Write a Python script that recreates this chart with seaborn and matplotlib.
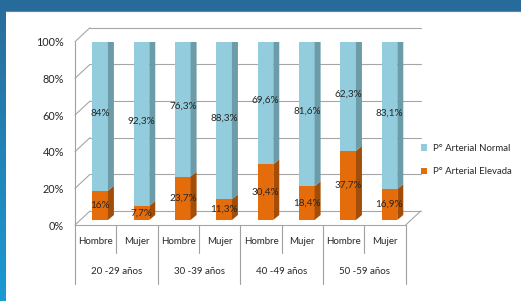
import matplotlib.pyplot as plt
import matplotlib.transforms as mtransforms
from matplotlib.patches import Polygon, Rectangle
from matplotlib.lines import Line2D
from matplotlib.colors import LinearSegmentedColormap
import seaborn as sns
import numpy as np
import pandas as pd

# datos
grupos = ["20 -29 años", "30 -39 años", "40 -49 años", "50 -59 años"]
sexos = ["Hombre", "Mujer"]
normal = [84, 92.3, 76.3, 88.3, 69.6, 81.6, 62.3, 83.1]
elevada = [16, 7.7, 23.7, 11.3, 30.4, 18.4, 37.7, 16.9]

BLUE, BLUE_SIDE, BLUE_TOP = "#93CDDD", "#6D9CA9", "#B2DCE7"
ORANGE, ORANGE_SIDE = "#E46C0A", "#A34E08"
GRID = "#A6A6A6"
TEXT = "#262626"

df = pd.DataFrame({
    "cat": [f"{g} {s}" for g in grupos for s in sexos],
    "sexo": sexos * len(grupos),
    "normal": normal,
    "elevada": elevada,
})
total = df["normal"] + df["elevada"]
df["elev_pct"] = df["elevada"] / total * 100
df["top"] = (df["normal"] + df["elevada"]) / total * 100

sns.set_style("white")
plt.rcParams["font.family"] = ["Lato", "DejaVu Sans"]

W, H = 521, 301
fig = plt.figure(figsize=(W / 100, H / 100), dpi=100)

# marco azul
fig.add_artist(Rectangle((0, (H - 10) / H), 1, 10 / H, transform=fig.transFigure,
                         color="#276B9B", zorder=-5))
strip = fig.add_axes([0, 0, 6 / W, (H - 10) / H])
grad = LinearSegmentedColormap.from_list("g", ["#1A9AD3", "#2A6E9C"])
strip.imshow(np.linspace(0, 1, 100).reshape(-1, 1), aspect="auto", cmap=grad, origin="lower")
strip.axis("off")
fig.add_artist(Line2D([6 / W, 1], [(H - 10.5) / H] * 2, transform=fig.transFigure,
                      color="#6F7F8C", lw=0.8))

ax = fig.add_axes([75 / W, (H - 225) / H, 330.7 / W, (225 - 41.7) / H])
ax.patch.set_alpha(0)

sns.barplot(data=df, x="cat", y="top", color=BLUE, saturation=1, width=0.375,
            errorbar=None, linewidth=0, label="P° Arterial Normal", ax=ax, zorder=3)
sns.barplot(data=df, x="cat", y="elev_pct", color=ORANGE, saturation=1, width=0.375,
            errorbar=None, linewidth=0, label="P° Arterial Elevada", ax=ax, zorder=3)

ax.set_xlim(-0.5, 7.5)
ax.set_ylim(0, 100)
ax.set_xticks([])
ax.set_xlabel("")
ax.set_ylabel("")
ax.set_yticks(range(0, 101, 20))
ax.set_yticklabels([f"{v}%" for v in range(0, 101, 20)])
ax.tick_params(axis="y", length=3, width=0.8, color="#868686", pad=5,
               labelsize=7.8, labelcolor=TEXT)
for s in ax.spines.values():
    s.set_visible(False)

# desplazamiento de profundidad (px)
BX, BY = 4.5, 5
SX, SY = 6, 5
DX, DY = 15, 14
for p in ax.patches:
    p.set_transform(ax.transData + mtransforms.Affine2D().translate(BX, BY))

ident = mtransforms.IdentityTransform()


def disp(x, y, dx=0, dy=0):
    X, Y = ax.transData.transform((x, y))
    return (X + dx, Y + dy)


def line(p0, p1, color=GRID, lw=0.8, z=1):
    ax.add_line(Line2D([p0[0], p1[0]], [p0[1], p1[1]], transform=ident,
                       color=color, lw=lw, clip_on=False, zorder=z))


# paredes y piso
for v in range(0, 101, 20):
    line(disp(-0.5, v, DX, DY), disp(7.5, v, DX, DY))
    line(disp(-0.5, v), disp(-0.5, v, DX, DY))
line(disp(-0.5, 0), disp(7.5, 0))
line(disp(7.5, 0), disp(7.5, 0, DX, DY))

# caras laterales y superiores de las barras
hw = 0.375 / 2
for i, row in df.iterrows():
    xr, xl = i + hw, i - hw
    for y0, y1, col in [(0, row["elev_pct"], ORANGE_SIDE), (row["elev_pct"], row["top"], BLUE_SIDE)]:
        pts = [disp(xr, y0, BX, BY), disp(xr, y1, BX, BY),
               disp(xr, y1, BX + SX, BY + SY), disp(xr, y0, BX + SX, BY + SY)]
        ax.add_patch(Polygon(pts, closed=True, transform=ident, color=col, lw=0, zorder=3))
    pts = [disp(xl, row["top"], BX, BY), disp(xr, row["top"], BX, BY),
           disp(xr, row["top"], BX + SX, BY + SY), disp(xl, row["top"], BX + SX, BY + SY)]
    ax.add_patch(Polygon(pts, closed=True, transform=ident, color=BLUE_TOP, lw=0, zorder=3))

# etiquetas de datos
lab_tr = mtransforms.offset_copy(ax.transData, fig=fig, x=BX, y=BY, units="dots")
for i, row in df.iterrows():
    e = row["elev_pct"]
    for val, mid in [(row["elevada"], e / 2), (row["normal"], (e + row["top"]) / 2)]:
        txt = f"{val:g}".replace(".", ",") + "%"
        ax.text(i, mid, txt, transform=lab_tr, ha="center", va="center",
                fontsize=7.2, color=TEXT, zorder=5)

# eje frontal y tabla de categorias
line(disp(-0.5, 100), disp(-0.5, 0, 0, -59), color="#A0A0A0")
for k in range(1, 9):
    depth = -28 if k % 2 == 1 and k < 8 else -59
    line(disp(k - 0.5, 0), disp(k - 0.5, 0, 0, depth), color="#A0A0A0")

sexo_tr = mtransforms.offset_copy(ax.transData, fig=fig, y=-16.7, units="dots")
grupo_tr = mtransforms.offset_copy(ax.transData, fig=fig, y=-46.7, units="dots")
for i, s in enumerate(df["sexo"]):
    ax.text(i, 0, s, transform=sexo_tr, ha="center", va="center", fontsize=7, color=TEXT)
for j, g in enumerate(grupos):
    ax.text(2 * j + 0.5, 0, g, transform=grupo_tr, ha="center", va="center",
            fontsize=7, color=TEXT)

ax.legend(loc="center left", bbox_to_anchor=(412 / W, 1 - 160 / H),
          bbox_transform=fig.transFigure, frameon=False, handlelength=0.65,
          handleheight=0.65, handletextpad=0.6, labelspacing=1.5, fontsize=6.9,
          labelcolor=TEXT)

fig.savefig("out.png", dpi=100)
